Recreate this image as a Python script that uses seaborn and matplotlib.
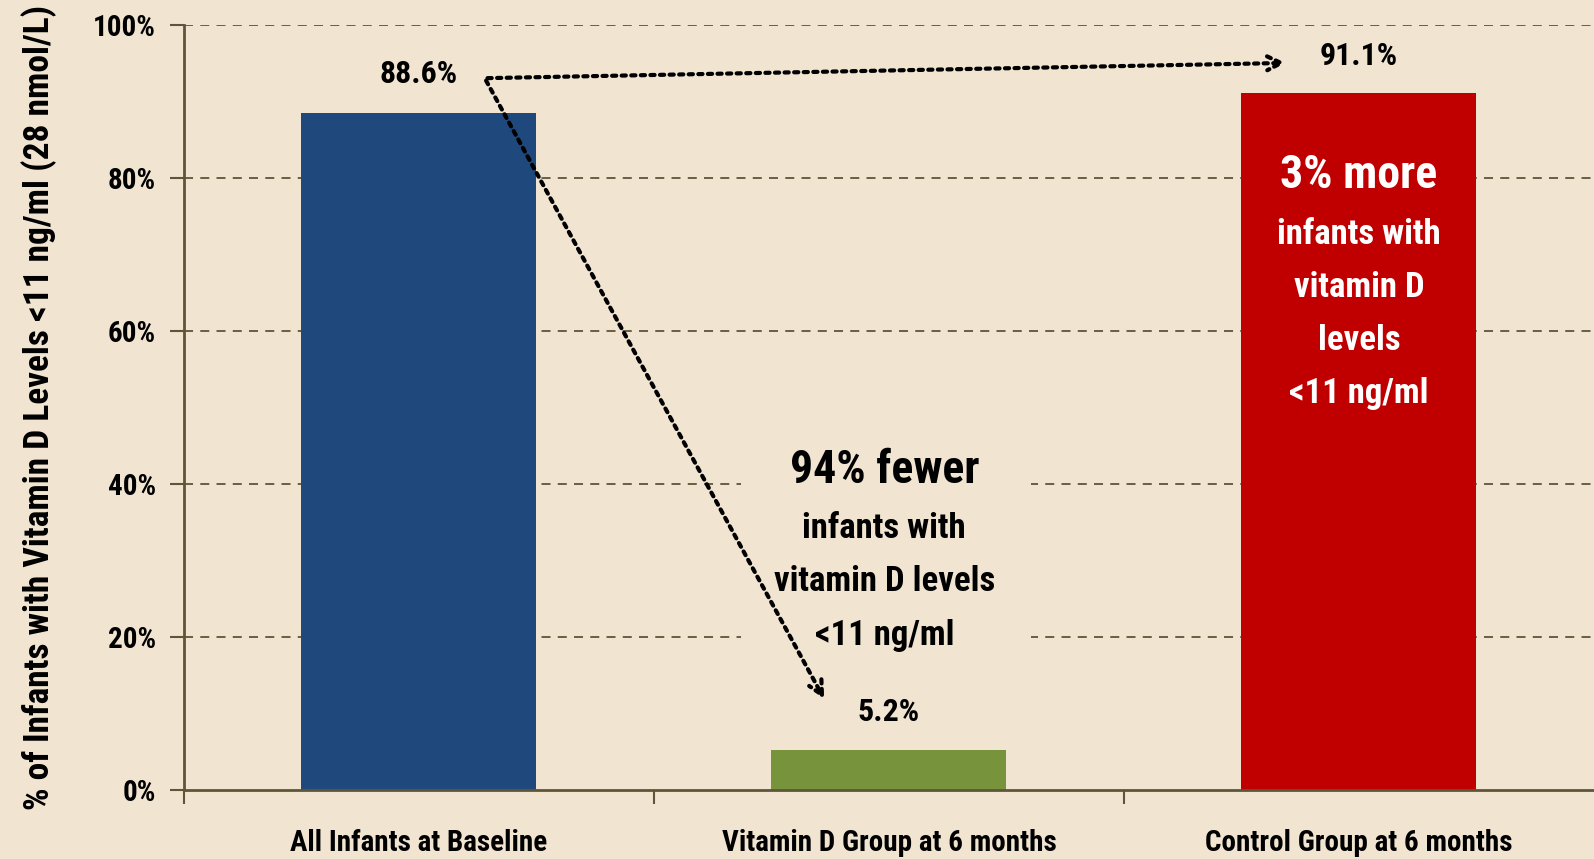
import matplotlib
matplotlib.use("Agg")
import matplotlib.pyplot as plt
import seaborn as sns
import pandas as pd
from matplotlib import font_manager

categories = ["All Infants at Baseline", "Vitamin D Group at 6 months", "Control Group at 6 months"]
values = [88.6, 5.2, 91.1]
value_labels = ["88.6%", "5.2%", "91.1%"]
colors = ["#1F497D", "#77933C", "#C00000"]
yticks = [0, 20, 40, 60, 80, 100]
ytick_labels = ["0%", "20%", "40%", "60%", "80%", "100%"]
green_note = ["94% fewer", "infants with", "vitamin D levels", "<11 ng/ml"]
red_note = ["3% more", "infants with", "vitamin D", "levels", "<11 ng/ml"]

BG = "#F1E5D1"
GRID = "#5E5639"

sns.set_theme(style="white")

# choose a condensed font if one is installed
ttf = font_manager.fontManager.ttflist
fam, stretch = "DejaVu Sans", "normal"
for name in ["Liberation Sans Narrow", "Roboto Condensed", "Open Sans Condensed"]:
    if any(f.name == name for f in ttf):
        fam, stretch = name, "normal"
        break
else:
    for f in ttf:
        if f.name in ("Roboto", "Open Sans", "DejaVu Sans", "Noto Sans") and \
                str(f.stretch) in ("condensed", "semi-condensed", "extra-condensed", "75", "87.5", "62.5"):
            fam, stretch = f.name, "condensed"
            break

plt.rcParams["font.family"] = [fam, "DejaVu Sans"]
plt.rcParams["font.weight"] = "bold"
plt.rcParams["font.stretch"] = stretch

df = pd.DataFrame({"cat": categories, "val": values})

fig = plt.figure(figsize=(15.94, 8.59), dpi=100, facecolor=BG)
ax = fig.add_axes([0.1154, 0.0803, 0.8846, 0.8901])
ax.set_facecolor(BG)

sns.barplot(data=df, x="cat", y="val", hue="cat", palette=colors, width=0.5,
            legend=False, ax=ax, saturation=1, zorder=3, edgecolor="none", linewidth=0)

ax.set_xlim(-0.5, 2.5)
ax.set_ylim(0, 100)
ax.set_yticks(yticks)
ax.set_yticklabels(ytick_labels, fontsize=21, fontweight="bold", color="black")
for y in yticks[1:]:
    ax.axhline(y, color=GRID, lw=1.3, ls=(0, (5, 4)), zorder=1)

ax.set_xticks([0, 1, 2])
ax.set_xticklabels(categories, fontsize=21, fontweight="bold", color="black")
ax.set_xticks([-0.5, 0.5, 1.5], minor=True)
ax.tick_params(axis="x", which="major", bottom=True, length=0, pad=28)
ax.tick_params(axis="x", which="minor", bottom=True, length=10, width=1.5, color=GRID, direction="out")
ax.tick_params(axis="y", left=True, length=10, width=1.5, color=GRID, direction="out", pad=10)

for s in ["top", "right"]:
    ax.spines[s].set_visible(False)
for s in ["left", "bottom"]:
    ax.spines[s].set_color(GRID)
    ax.spines[s].set_linewidth(2)
    ax.spines[s].set_zorder(4)

ax.set_xlabel("")
ax.set_ylabel("% of Infants with Vitamin D Levels <11 ng/ml (28 nmol/L)", fontsize=25.5,
              fontweight="bold", color="black", labelpad=26)

# value labels
label_y = [93.7, 10.2, 96.0]
for i, (lab, ly) in enumerate(zip(value_labels, label_y)):
    ax.text(i, ly, lab, ha="center", va="center", fontsize=23, fontweight="bold", color="black", zorder=6)

# dotted arrows
arrow_kw = dict(arrowstyle="->", ls=(0, (1, 1.3)), lw=3, color="black", mutation_scale=25)
ax.annotate("", xy=(1.85, 95.1), xytext=(0.14, 93.1), arrowprops=arrow_kw, zorder=6)
ax.annotate("", xy=(0.865, 11.6), xytext=(0.14, 93.1), arrowprops=arrow_kw, zorder=6)

# background patch behind green note hides gridlines
ax.axvspan(0.685, 1.303, ymin=0.16, ymax=0.47, facecolor=BG, edgecolor="none", zorder=2)

green_y = [41.9, 34.2, 27.3, 20.2]
for k, (t, yy) in enumerate(zip(green_note, green_y)):
    ax.text(0.99, yy, t, ha="center", va="center", fontsize=33 if k == 0 else 25,
            fontweight="bold", color="black", zorder=5)

red_y = [80.5, 72.7, 65.7, 58.8, 51.9]
for k, (t, yy) in enumerate(zip(red_note, red_y)):
    ax.text(2.0, yy, t, ha="center", va="center", fontsize=33 if k == 0 else 25,
            fontweight="bold", color="white", zorder=5)

fig.savefig("out.png", dpi=100, facecolor=BG)
